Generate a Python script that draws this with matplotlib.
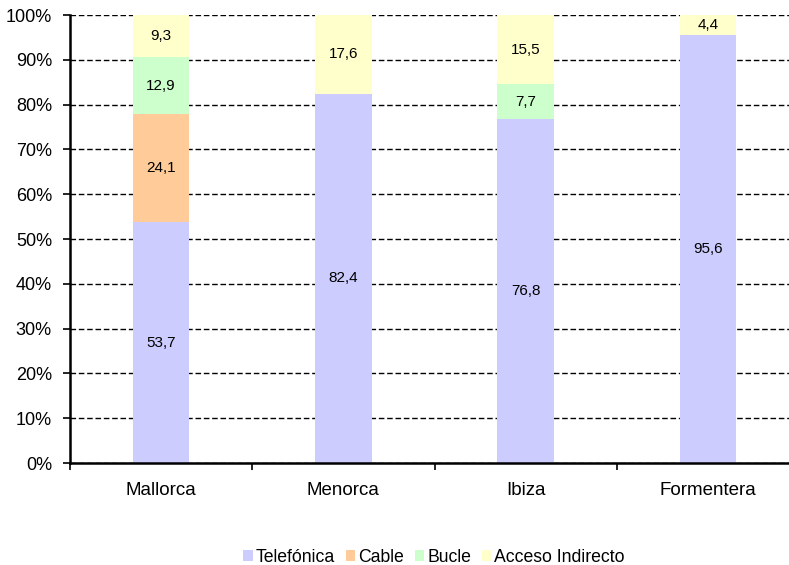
import matplotlib
matplotlib.use("Agg")
import matplotlib.pyplot as plt
import numpy as np
from matplotlib.ticker import FixedLocator

plt.rcParams['font.family'] = ['Liberation Sans', 'DejaVu Sans']

islas = ["Mallorca", "Menorca", "Ibiza", "Formentera"]
series = ["Telefónica", "Cable", "Bucle", "Acceso Indirecto"]
telefonica = [53.7, 82.4, 76.8, 95.6]
cable = [24.1, 0.0, 0.0, 0.0]
bucle = [12.9, 0.0, 7.7, 0.0]
acceso = [9.3, 17.6, 15.5, 4.4]
colores = ["#CCCCFF", "#FFCC99", "#CCFFCC", "#FFFFCC"]

fig = plt.figure(figsize=(7.89, 5.65), dpi=100)
ax = fig.add_axes([70 / 789, 102 / 565, 729 / 789, 448 / 565])

x = np.arange(len(islas))
base = np.zeros(len(islas))
for nombre, vals, col in zip(series, [telefonica, cable, bucle, acceso], colores):
    vals = np.array(vals)
    ax.bar(x, vals, 0.31, bottom=base, color=col, label=nombre, zorder=2)
    for xi, b, v in zip(x, base, vals):
        if v > 0:
            ax.text(xi, b + v / 2, f"{v:.1f}".replace(".", ","),
                    ha="center", va="center", fontsize=11, zorder=3)
    base = base + vals

ax.set_xlim(-0.5, 3.5)
ax.set_ylim(0, 100)
ax.set_yticks(np.arange(0, 101, 10))
ax.set_yticklabels([f"{v}%" for v in range(0, 101, 10)])
ax.yaxis.grid(True, color="black", linestyle=(0, (4, 2)), linewidth=1, zorder=1)
ax.set_xticks(x)
ax.set_xticklabels(islas)
ax.xaxis.set_minor_locator(FixedLocator(np.arange(-0.5, 3.6, 1)))
ax.tick_params(axis="x", which="major", length=0, pad=14, labelsize=13.5)
ax.tick_params(axis="x", which="minor", length=5, width=1.2, direction="out")
ax.tick_params(axis="y", length=5, width=1.2, pad=8, labelsize=13)

for s in ["top", "right"]:
    ax.spines[s].set_visible(False)
for s in ["left", "bottom"]:
    ax.spines[s].set_linewidth(1.8)

fig.legend(loc="center", bbox_to_anchor=(434 / 789, 1 - 557 / 565), ncol=4,
           frameon=False, fontsize=12.7, handlelength=0.55, handleheight=0.55,
           handletextpad=0.17, columnspacing=0.6)

fig.savefig("out.png", dpi=100)
